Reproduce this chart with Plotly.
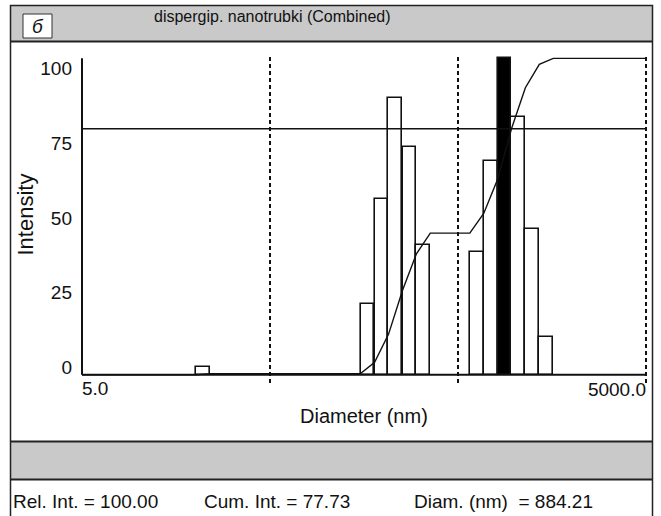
import numpy as np
import plotly.graph_objects as go

# Combined size distribution: bin diameters (nm) and relative intensities (%)
diameters_nm = [22.1, 165, 196, 232, 276, 327, 629, 746, 884.21, 1048, 1243, 1474]
rel_intensity = [2.4, 22.3, 55.4, 87.4, 72.0, 41.0, 38.8, 67.6, 100.0, 81.4, 46.1, 12.0]

selected_diam = 884.21      # bin picked by the cursor
cum_int_selected = 77.73    # cumulative intensity at that bin

x_tick_vals = [5.0, 5000.0]
x_tick_text = ["5.0", "5000.0"]
y_tick_vals = [0, 25, 50, 75, 100]
decade_marks = [50, 500, 5000]

BIN_LOG_WIDTH = 0.0739      # bin width in decades
X_MIN, X_MAX = 5.0, 5000.0

# ---------------------------------------------------------------- geometry
W, H = 661, 516
PL, PR, PT, PB = 80, 650, 52, 378          # plot area in pixels
PX_PER_DEC = (PR - PL) / (np.log10(X_MAX / X_MIN) + 6 / 188)
x_range = [np.log10(X_MIN) - 2 / PX_PER_DEC, np.log10(X_MAX) + 4 / PX_PER_DEC]
y_range = [-1, 102]


def px(xp):
    return (xp - PL) / (PR - PL)


def py(yp):
    return (PB - yp) / (PB - PT)


FONT = "Liberation Sans, Arial, sans-serif"
INK = "#111111"
PANEL = "#c9c9c9"

# ---------------------------------------------------------------- data prep
logd = np.log10(diameters_nm)
rel = np.array(rel_intensity, dtype=float)
cum = np.cumsum(rel) / rel.sum() * 100.0
cum_before = np.concatenate([[0.0], cum[:-1]])

cx, cy = [np.log10(X_MIN)], [0.0]
for ld, c0, c1 in zip(logd, cum_before, cum):
    cx += [ld - BIN_LOG_WIDTH / 2, ld + BIN_LOG_WIDTH / 2]
    cy += [c0, c1]
cx.append(np.log10(X_MAX))
cy.append(100.0)

sel_idx = int(np.argmin(np.abs(np.array(diameters_nm) - selected_diam)))
bar_colors = ["black" if i == sel_idx else "white" for i in range(len(rel))]

fig = go.Figure()
fig.add_trace(go.Bar(
    x=logd, y=rel, width=BIN_LOG_WIDTH, base=0,
    marker=dict(color=bar_colors, line=dict(color=INK, width=1.6)),
    xaxis="x", yaxis="y", hoverinfo="skip",
))
fig.add_trace(go.Scatter(
    x=cx, y=cy, mode="lines", line=dict(color=INK, width=1.4),
    xaxis="x", yaxis="y", hoverinfo="skip",
))
# empty trace so the secondary label axes get drawn
fig.add_trace(go.Scatter(x=[], y=[], xaxis="x2", yaxis="y2", hoverinfo="skip"))

shapes = []
# cumulative-intensity cursor line
shapes.append(dict(type="line", xref="x", yref="y",
                   x0=np.log10(X_MIN), x1=np.log10(X_MAX),
                   y0=cum_int_selected, y1=cum_int_selected,
                   line=dict(color=INK, width=1.5)))
# decade markers
for d in decade_marks:
    shapes.append(dict(type="line", xref="x", yref="paper",
                       x0=np.log10(d), x1=np.log10(d), y0=py(383), y1=py(55),
                       line=dict(color=INK, width=2, dash="4px,3px")))
# axis lines
shapes.append(dict(type="line", xref="x", yref="y",
                   x0=np.log10(X_MIN), x1=np.log10(X_MAX), y0=0, y1=0,
                   line=dict(color=INK, width=2)))
shapes.append(dict(type="line", xref="x", yref="y",
                   x0=np.log10(X_MIN), x1=np.log10(X_MIN), y0=0, y1=100,
                   line=dict(color=INK, width=2)))

# window furniture: title bar, status bar, outer frame, panel tag
shapes.append(dict(type="rect", xref="paper", yref="paper",
                   x0=px(11), x1=px(652), y0=py(41), y1=py(6),
                   fillcolor=PANEL, line=dict(width=0), layer="below"))
shapes.append(dict(type="rect", xref="paper", yref="paper",
                   x0=px(11), x1=px(652), y0=py(479), y1=py(442),
                   fillcolor=PANEL, line=dict(width=0), layer="below"))
for yl in (41.5, 441.5, 479.5):
    shapes.append(dict(type="line", xref="paper", yref="paper",
                       x0=px(10.5), x1=px(652.5), y0=py(yl), y1=py(yl),
                       line=dict(color="#222222", width=2)))
shapes.append(dict(type="rect", xref="paper", yref="paper",
                   x0=px(10.5), x1=px(652.5), y0=py(520), y1=py(5.5),
                   line=dict(color="#222222", width=1.5)))
shapes.append(dict(type="rect", xref="paper", yref="paper",
                   x0=px(23), x1=px(52), y0=py(38), y1=py(14),
                   fillcolor="white", line=dict(color="#333333", width=1)))

annotations = [
    dict(text="<i>б</i>", x=px(37.5), y=py(26), font=dict(size=19)),
    dict(text="dispergip. nanotrubki (Combined)", x=px(272), y=py(17),
         font=dict(size=16)),
    dict(text="Intensity", x=px(24.5), y=py(215), textangle=-90, font=dict(size=22)),
    dict(text="Diameter (nm)", x=px(364), y=py(416), font=dict(size=20)),
    dict(text=f"Rel. Int. = {rel[sel_idx]:.2f}", x=px(11), y=py(501), xanchor="left",
         font=dict(size=19)),
    dict(text=f"Cum. Int. = {cum_int_selected:.2f}", x=px(202), y=py(501), xanchor="left",
         font=dict(size=19)),
    dict(text=f"Diam. (nm)  = {selected_diam:.2f}", x=px(412), y=py(501), xanchor="left",
         font=dict(size=19)),
]
for a in annotations:
    a.setdefault("xref", "paper")
    a.setdefault("yref", "paper")
    a.setdefault("showarrow", False)
    a.setdefault("xanchor", "center")
    a.setdefault("yanchor", "middle")
    a["font"] = dict(family=FONT, color=INK, **a["font"])

tick_font = dict(family=FONT, size=19, color=INK)
fig.update_layout(
    width=W, height=H,
    margin=dict(l=PL, r=W - PR, t=PT, b=H - PB, pad=0),
    paper_bgcolor="white", plot_bgcolor="white",
    showlegend=False, bargap=0,
    shapes=shapes, annotations=annotations,
    xaxis=dict(range=x_range, showgrid=False, zeroline=False, showline=False,
               tickmode="array", tickvals=[np.log10(x_tick_vals[0])], ticktext=[x_tick_text[0]],
               ticklabelposition="outside right", ticks="", tickfont=tick_font,
               ticklabelstandoff=-3),
    xaxis2=dict(range=x_range, overlaying="x", anchor="y", side="bottom",
                showgrid=False, zeroline=False, showline=False,
                tickmode="array", tickvals=[np.log10(x_tick_vals[1])], ticktext=[x_tick_text[1]],
                ticklabelposition="outside left", ticks="", tickfont=tick_font,
                ticklabelstandoff=-2),
    yaxis=dict(range=y_range, showgrid=False, zeroline=False, showline=False,
               showticklabels=False, ticks=""),
    yaxis2=dict(range=[-3.55, 105.6], overlaying="y", anchor="x", side="left",
                showgrid=False, zeroline=False, showline=False,
                tickmode="array", tickvals=y_tick_vals, ticks="",
                tickfont=tick_font, ticklabelstandoff=7),
)

fig.write_html("out.html")
